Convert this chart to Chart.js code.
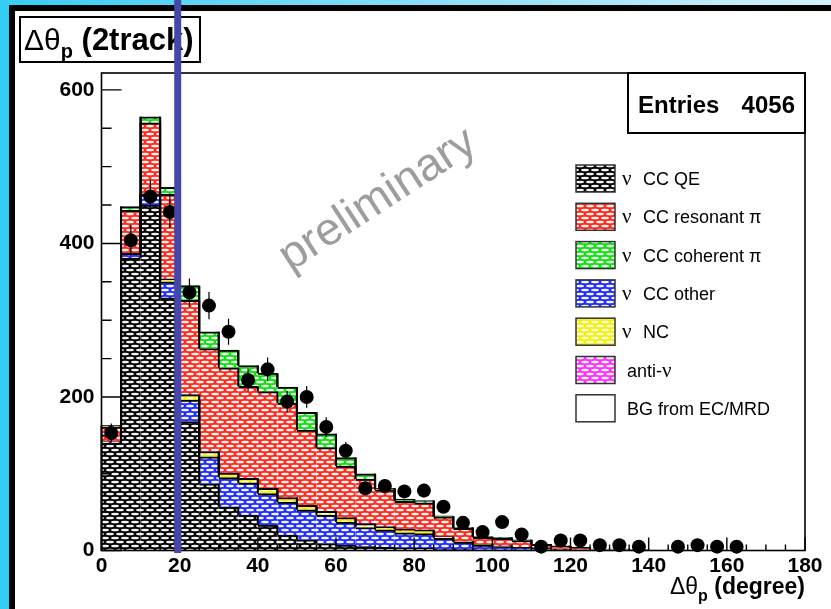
<!DOCTYPE html>
<html>
<head>
<meta charset="utf-8">
<script src="https://cdn.jsdelivr.net/npm/chart.js@4.4.1/dist/chart.umd.min.js"></script>
<style>
  html, body { margin: 0; padding: 0; background: #fff; overflow: hidden; }
  canvas { display: block; }
</style>
</head>
<body>
<canvas id="c" width="831" height="609"></canvas>
<script>
// Δθp distribution for 2-track events: stacked MC components + data
const binCentre = [2.5, 7.5, 12.5, 17.5, 22.5, 27.5, 32.5, 37.5, 42.5, 47.5,
                   52.5, 57.5, 62.5, 67.5, 72.5, 77.5, 82.5, 87.5, 92.5, 97.5,
                   102.5, 107.5, 112.5, 117.5, 122.5, 127.5, 132.5, 137.5, 142.5, 147.5,
                   152.5, 157.5, 162.5, 167.5, 172.5, 177.5];

const ccQE       = [140, 381, 450, 329, 168, 87, 57, 46, 33, 20,
                    14, 9, 7, 5, 4, 3, 3, 2, 2, 1,
                    1, 1, 1, 0, 0, 0, 0, 0, 0, 0,
                    0, 0, 0, 0, 0, 0];
const ccOther    = [2, 6, 14, 21, 28, 35, 38, 42, 41, 43,
                    39, 37, 30, 25, 23, 20, 19, 14, 9, 6,
                    4, 3, 2, 2, 1, 1, 1, 0, 0, 0,
                    0, 0, 0, 0, 0, 0];
const ncAll      = [0, 0, 1, 4, 7, 7, 6, 6, 7, 6,
                    6, 5, 6, 5, 4, 5, 5, 2, 1, 1,
                    1, 0, 0, 0, 0, 0, 0, 0, 0, 0,
                    0, 0, 0, 0, 0, 0];
const antiNu     = [0, 0, 0, 0, 0, 0, 0, 0, 0, 0,
                    0, 0, 0, 0, 0, 0, 0, 0, 0, 0,
                    0, 0, 0, 0, 0, 0, 0, 0, 0, 0,
                    0, 0, 0, 0, 0, 0];
const ccResPi    = [19, 56, 92, 110, 123, 134, 137, 120, 126, 123,
                    98, 83, 67, 58, 48, 36, 35, 26, 17, 9,
                    10, 9, 5, 4, 3, 1, 1, 1, 0, 0,
                    0, 0, 0, 0, 0, 0];
const ccCohPi    = [2, 5, 8, 9, 19, 22, 23, 27, 24, 21,
                    23, 18, 11, 7, 2, 3, 3, 1, 1, 1,
                    1, 1, 0, 0, 0, 0, 0, 0, 0, 0,
                    0, 0, 0, 0, 0, 0];
const bgECMRD    = [0, 0, 0, 0, 0, 0, 0, 0, 0, 0,
                    0, 0, 0, 0, 0, 0, 0, 0, 0, 0,
                    0, 0, 0, 0, 0, 0, 0, 0, 0, 0,
                    0, 0, 0, 0, 0, 0];
const dataCounts = [153, 404, 461, 441, 336, 319, 285, 222, 236, 194,
                    200, 161, 130, 81, 84, 77, 78, 57, 36, 24,
                    37, 21, 5, 13, 13, 7, 7, 5, null, 5,
                    7, 5, 5, null, null, null];

const xTickValues = [0, 20, 40, 60, 80, 100, 120, 140, 160, 180];
const yTickValues = [0, 200, 400, 600];
const entries = 4056;
const cutAngle = 19.5;   // selection cut marker, degrees

const SANS = '"Liberation Sans", Arial, Helvetica, sans-serif';
const SERIF = '"Liberation Serif", "Times New Roman", serif';

const canvas = document.getElementById('c');
const ctx = canvas.getContext('2d');

// ROOT-like fill: solid colour with staggered white lens marks
function hatch(color) {
  const t = document.createElement('canvas');
  t.width = 10; t.height = 8;
  const g = t.getContext('2d');
  g.fillStyle = color;
  g.fillRect(0, 0, 10, 8);
  g.fillStyle = 'rgba(255,255,255,0.95)';
  const lens = (cx, cy) => { g.beginPath(); g.ellipse(cx, cy, 4.0, 1.35, 0, 0, Math.PI * 2); g.fill(); };
  lens(5, 2); lens(0, 6); lens(10, 6);
  return ctx.createPattern(t, 'repeat');
}

const components = [
  { key: 'qe',    values: ccQE,    label: 'CC QE',          nu: true,  color: '#000000' },
  { key: 'other', values: ccOther, label: 'CC other',       nu: true,  color: '#1f2cff' },
  { key: 'nc',    values: ncAll,   label: 'NC',             nu: true,  color: '#f2f200' },
  { key: 'anti',  values: antiNu,  label: 'anti-',          nu: false, color: '#ff30ff' },
  { key: 'res',   values: ccResPi, label: 'CC resonant π',  nu: true,  color: '#ff2a1c' },
  { key: 'coh',   values: ccCohPi, label: 'CC coherent π',  nu: true,  color: '#10e010' },
  { key: 'bg',    values: bgECMRD, label: 'BG from EC/MRD', nu: false, color: null }
];
components.forEach(c => { c.fill = c.color ? hatch(c.color) : '#ffffff'; });

// legend order as printed
const legendOrder = ['qe', 'res', 'coh', 'other', 'nc', 'anti', 'bg'];

const barSets = components.map(c => ({
  type: 'bar',
  label: c.label,
  data: binCentre.map((x, i) => ({ x: x, y: c.values[i] })),
  backgroundColor: c.fill,
  borderColor: '#000',
  borderWidth: { top: 2, left: 0, right: 0, bottom: 0 },
  borderSkipped: false,
  barPercentage: 1,
  categoryPercentage: 1,
  order: 1
}));

const dataSet = {
  type: 'line',
  label: 'data',
  stack: 'observed',
  data: binCentre.map((x, i) => ({ x: x, y: dataCounts[i] })),
  showLine: false,
  pointRadius: 7,
  pointBackgroundColor: '#000',
  pointBorderColor: '#000',
  pointBorderWidth: 0,
  clip: false,
  order: 0
};

function drawSubText(c, x, y, parts) {
  let cx = x;
  parts.forEach(p => {
    c.font = p.font;
    c.fillText(p.t, cx, y + (p.dy || 0));
    cx += c.measureText(p.t).width;
  });
  return cx;
}
function measureParts(c, parts) {
  let w = 0;
  parts.forEach(p => { c.font = p.font; w += c.measureText(p.t).width; });
  return w;
}

const decor = {
  id: 'decor',
  beforeDraw(chart) {
    const c = chart.ctx;
    c.save();
    c.fillStyle = '#fff';
    c.fillRect(0, 0, chart.width, chart.height);
    // slide border
    const grad = c.createLinearGradient(0, 0, chart.width, 0);
    grad.addColorStop(0, '#36cdf5');
    grad.addColorStop(0.45, '#7fdcf7');
    grad.addColorStop(1, '#d4f1fb');
    c.fillStyle = grad;
    c.fillRect(0, 0, chart.width, 5);
    c.fillStyle = '#36cdf5';
    c.fillRect(0, 0, 9, chart.height);
    c.fillStyle = '#000';
    c.fillRect(9, 5, chart.width - 9, 6);
    c.fillRect(9, 5, 6, chart.height - 5);
    c.restore();
  },
  beforeDatasetDraw(chart, args) {
    if (args.meta.type !== 'line') return;
    const c = chart.ctx;
    const xs = chart.scales.x, ys = chart.scales.y;
    const area = chart.chartArea;
    c.save();
    // step outlines of each cumulative layer
    c.strokeStyle = '#000';
    c.lineWidth = 2;
    chart.data.datasets.forEach((ds, di) => {
      const meta = chart.getDatasetMeta(di);
      if (meta.type !== 'bar') return;
      const els = meta.data;
      c.beginPath();
      for (let i = 0; i < els.length; i++) {
        const e = els[i];
        const left = e.x - e.width / 2, right = e.x + e.width / 2;
        if (i === 0 && e.base !== e.y) { c.moveTo(left, e.base); c.lineTo(left, e.y); }
        const next = els[i + 1];
        const nextTop = next ? next.y : e.base;
        if (nextTop !== e.y) { c.moveTo(right, e.y); c.lineTo(right, nextTop); }
      }
      c.stroke();
    });
    // frame
    c.lineWidth = 1.6;
    c.strokeRect(area.left, area.top, area.right - area.left, area.bottom - area.top);
    // inward ticks
    c.lineWidth = 1.4;
    c.beginPath();
    for (let v = 0; v <= 620; v += 50) {
      const y = ys.getPixelForValue(v);
      const len = (v % 200 === 0) ? 20 : 10;
      c.moveTo(area.left, y); c.lineTo(area.left + len, y);
    }
    for (let v = 0; v <= 180; v += 5) {
      const x = xs.getPixelForValue(v);
      const len = (v % 20 === 0) ? 13 : 6;
      c.moveTo(x, area.bottom); c.lineTo(x, area.bottom - len);
    }
    c.stroke();
    // statistical error bars on data
    c.lineWidth = 1.2;
    c.beginPath();
    binCentre.forEach((x, i) => {
      const n = dataCounts[i];
      if (n == null) return;
      const px = xs.getPixelForValue(x);
      const e = Math.sqrt(n);
      c.moveTo(px, ys.getPixelForValue(n + e));
      c.lineTo(px, ys.getPixelForValue(Math.max(n - e, 0)));
    });
    c.stroke();
    c.restore();
  },
  afterDraw(chart) {
    const c = chart.ctx;
    const xs = chart.scales.x;
    const area = chart.chartArea;
    c.save();
    c.fillStyle = '#000';
    c.textBaseline = 'alphabetic';

    // watermark
    c.save();
    c.translate(378, 200);
    c.rotate(-33 * Math.PI / 180);
    c.font = '46px ' + SANS;
    c.fillStyle = '#9d9d9d';
    c.textAlign = 'center';
    c.textBaseline = 'middle';
    c.fillText('preliminary', 0, 0);
    c.restore();

    // histogram title box
    c.fillStyle = '#fff';
    c.fillRect(20, 17, 180, 45);
    c.strokeStyle = '#000';
    c.lineWidth = 2;
    c.strokeRect(20, 17, 180, 45);
    c.fillStyle = '#000';
    drawSubText(c, 24, 50, [
      { t: 'Δθ', font: '30px ' + SANS },
      { t: 'p', font: 'bold 20px ' + SANS, dy: 8 },
      { t: ' (2track)', font: 'bold 31px ' + SANS }
    ]);

    // statistics box
    c.fillStyle = '#fff';
    c.fillRect(628, area.top, area.right - 628, 60);
    c.lineWidth = 2;
    c.strokeRect(628, area.top, area.right - 628, 60);
    c.fillStyle = '#000';
    c.font = 'bold 24px ' + SANS;
    c.textAlign = 'left';
    c.fillText('Entries', 638, 113);
    c.textAlign = 'right';
    c.fillText(String(entries), 795, 113);
    c.textAlign = 'left';

    // legend
    legendOrder.forEach((k, i) => {
      const comp = components.find(cc => cc.key === k);
      const top = 165 + i * 38.3;
      c.fillStyle = comp.fill;
      c.fillRect(576, top, 39, 27);
      c.strokeStyle = '#333';
      c.lineWidth = 1.5;
      c.strokeRect(576, top, 39, 27);
      c.fillStyle = '#000';
      const base = top + 20;
      if (comp.nu) {
        c.font = '21px ' + SERIF;
        c.fillText('ν', 622, base);
        c.font = '18px ' + SANS;
        c.fillText(comp.label, 643, base);
      } else if (k === 'anti') {
        const end = drawSubText(c, 627, base, [{ t: 'anti-', font: '18px ' + SANS }]);
        c.font = '21px ' + SERIF;
        c.fillText('ν', end, base);
      } else {
        c.font = '18px ' + SANS;
        c.fillText(comp.label, 627, base);
      }
    });

    // x-axis title, right aligned to the frame
    const titleParts = [
      { t: 'Δθ', font: '23px ' + SANS },
      { t: 'p', font: 'bold 16px ' + SANS, dy: 7 },
      { t: ' (degree)', font: 'bold 23px ' + SANS }
    ];
    const tw = measureParts(c, titleParts);
    drawSubText(c, area.right - tw, 594, titleParts);

    // cut marker
    const cx = xs.getPixelForValue(cutAngle);
    c.fillStyle = '#4747a9';
    c.fillRect(cx - 3.5, 0, 7, 553);
    c.restore();
  }
};

new Chart(ctx, {
  type: 'bar',
  data: { datasets: [dataSet].concat(barSets) },
  options: {
    responsive: false,
    animation: false,
    devicePixelRatio: 1,
    layout: { padding: { left: 0, top: 73, right: 26, bottom: 0 } },
    plugins: { legend: { display: false }, tooltip: { enabled: false }, title: { display: false } },
    scales: {
      x: {
        type: 'linear',
        min: 0,
        max: 180,
        stacked: true,
        offset: false,
        grid: { display: false, drawTicks: false },
        border: { display: false },
        afterBuildTicks(s) { s.ticks = xTickValues.map(v => ({ value: v })); },
        afterFit(s) { s.height = 58.5; s.paddingLeft = 0; s.paddingRight = 0; },
        ticks: {
          autoSkip: false,
          maxRotation: 0,
          padding: 3,
          color: '#000',
          font: { family: SANS, size: 21, weight: 'bold' }
        }
      },
      y: {
        type: 'linear',
        min: 0,
        max: 622,
        stacked: true,
        grid: { display: false, drawTicks: false },
        border: { display: false },
        afterBuildTicks(s) { s.ticks = yTickValues.map(v => ({ value: v })); },
        afterFit(s) { s.width = 101.5; s.paddingTop = 0; s.paddingBottom = 0; },
        ticks: {
          padding: 7,
          color: '#000',
          font: { family: SANS, size: 21, weight: 'bold' }
        }
      }
    }
  },
  plugins: [decor]
});
</script>
</body>
</html>
